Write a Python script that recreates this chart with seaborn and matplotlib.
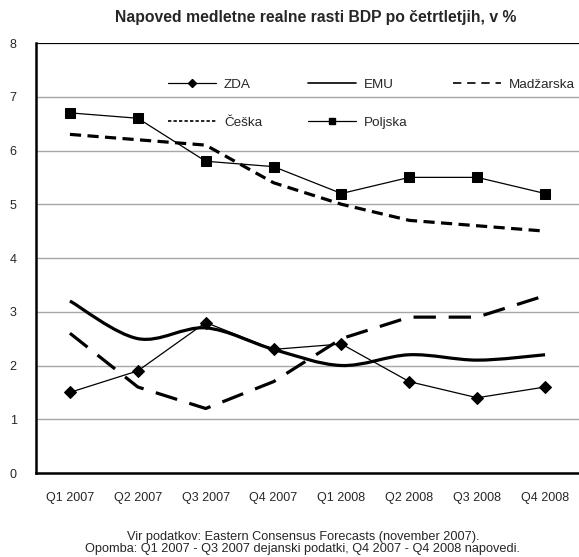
import numpy as np
import pandas as pd
import matplotlib
matplotlib.use("Agg")
import matplotlib.pyplot as plt
from matplotlib.path import Path
from matplotlib.patches import PathPatch
from matplotlib.lines import Line2D
import seaborn as sns

# podatki
cetrtletja = ["Q1 2007", "Q2 2007", "Q3 2007", "Q4 2007", "Q1 2008", "Q2 2008", "Q3 2008", "Q4 2008"]
zda = [1.5, 1.9, 2.8, 2.3, 2.4, 1.7, 1.4, 1.6]
emu = [3.2, 2.5, 2.7, 2.3, 2.0, 2.2, 2.1, 2.2]
madzarska = [2.6, 1.6, 1.2, 1.7, 2.5, 2.9, 2.9, 3.3]
ceska = [6.3, 6.2, 6.1, 5.4, 5.0, 4.7, 4.6, 4.5]
poljska = [6.7, 6.6, 5.8, 5.7, 5.2, 5.5, 5.5, 5.2]

sns.set_style("white")
plt.rcParams['font.family'] = ['Liberation Sans', 'DejaVu Sans']

fig = plt.figure(figsize=(5.79, 5.57), dpi=100)
ax = fig.add_axes([0.0622, 0.1508, 0.9378, 0.772])

x = np.arange(len(cetrtletja))
df = pd.DataFrame({"x": x, "ZDA": zda, "EMU": emu, "Madžarska": madzarska,
                   "Češka": ceska, "Poljska": poljska})

# mreza
for v in range(0, 8):
    ax.axhline(v, color="#a6a6a6", lw=1.0, zorder=0)
ax.axhline(8, color="black", lw=1.6, zorder=0)

sns.lineplot(data=df, x="x", y="ZDA", ax=ax, color="black", lw=0.9,
             marker="D", markersize=6.5, markeredgecolor="black", legend=False)
sns.lineplot(data=df, x="x", y="Češka", ax=ax, color="black", lw=2.3,
             legend=False).lines[-1].set_dashes([3.5, 2])
# EMU - zglajena crta (kot Excel, Bezier)
pts = np.column_stack([x, emu]).astype(float)
ext = np.vstack([pts[0], pts, pts[-1]])
verts = [tuple(pts[0])]
codes = [Path.MOVETO]
for i in range(len(pts) - 1):
    p0, p1, p2, p3 = ext[i], ext[i + 1], ext[i + 2], ext[i + 3]
    c1 = p1 + (p2 - p0) / 6
    c2 = p2 - (p3 - p1) / 6
    verts += [tuple(c1), tuple(c2), tuple(p2)]
    codes += [Path.CURVE4] * 3
ax.add_patch(PathPatch(Path(verts, codes), facecolor="none", edgecolor="black", lw=2.3, zorder=3))

sns.lineplot(data=df, x="x", y="Poljska", ax=ax, color="black", lw=0.9,
             marker="s", markersize=7, markeredgecolor="black", legend=False)
sns.lineplot(data=df, x="x", y="Madžarska", ax=ax, color="black", lw=2.3,
             legend=False).lines[-1].set_dashes([7, 4])

ax.set_xlim(-0.5, 7.5)
ax.set_ylim(0, 8)
ax.set_xlabel("")
ax.set_ylabel("")
ax.set_xticks(x)
ax.set_xticklabels(cetrtletja, fontsize=9)
ax.set_xticks(np.arange(-0.5, 8, 1), minor=True)
ax.tick_params(axis="x", which="major", length=0, pad=14)
ax.tick_params(axis="x", which="minor", length=5, width=1, direction="out", color="black")
ax.set_yticks(range(0, 9))
ax.tick_params(axis="y", labelsize=9, length=5, width=1, direction="out", color="black", pad=9)
for s in ["top", "right"]:
    ax.spines[s].set_visible(False)
for s in ["left", "bottom"]:
    ax.spines[s].set_linewidth(1.8)
    ax.spines[s].set_color("black")

# legenda
h = [
    Line2D([], [], color="black", lw=0.9, marker="D", markersize=4),
    Line2D([], [], color="black", lw=1.2, dashes=[2, 1.3]),
    Line2D([], [], color="black", lw=1.2),
    Line2D([], [], color="black", lw=0.9, marker="s", markersize=5),
    Line2D([], [], color="black", lw=1.2, dashes=[5, 3.5]),
]
lab = ["ZDA", "Češka", "EMU", "Poljska", "Madžarska"]
ax.legend(h, lab, ncol=3, frameon=False, fontsize=9.7, loc="upper left",
          bbox_to_anchor=(0.221, 0.945), handlelength=3.55, labelspacing=1.85,
          columnspacing=3.4, handletextpad=0.6)

fig.text(0.545, 0.968, "Napoved medletne realne rasti BDP po četrtletjih, v %",
         ha="center", va="center", fontsize=11.3, fontweight="bold")
fig.text(0.523, 1 - 537 / 557, "Vir podatkov: Eastern Consensus Forecasts (november 2007).",
         ha="center", va="center", fontsize=9.2)
fig.text(0.522, 1 - 549 / 557, "Opomba: Q1 2007 - Q3 2007 dejanski podatki, Q4 2007 - Q4 2008 napovedi.",
         ha="center", va="center", fontsize=9.2)

fig.savefig("out.png", dpi=100)
